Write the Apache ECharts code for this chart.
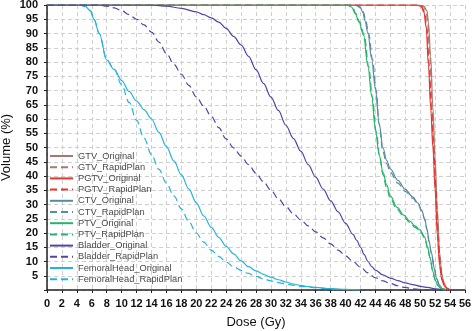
<!DOCTYPE html>
<html>
<head>
<meta charset="utf-8">
<script src="https://cdn.jsdelivr.net/npm/echarts@6/dist/echarts.min.js"></script>
<style>
html,body{margin:0;padding:0;background:#fff;}
#c{width:472px;height:331px;}
</style>
</head>
<body>
<div id="c"></div>
<script>
// Dose (Gy) / Volume (%) pairs
const gtvOriginal = [[0,100],[50,100],[50.5,99.6],[50.9,98],[51.1,94],[51.4,82],[51.7,64],[52,46],[52.3,28],[52.6,13],[52.9,5.5],[53.2,2.2],[53.6,0.6],[54,0]];
const gtvRapidPlan = [[0,100],[49.9,100],[50.4,99.6],[50.8,98],[51.0,94],[51.3,82],[51.6,64],[51.9,46],[52.2,28],[52.5,13],[52.8,5.5],[53.1,2.2],[53.5,0.6],[54,0]];
const pgtvOriginal = [[0,100],[49.5,100],[50.1,99.5],[50.5,97.5],[50.8,92],[51.1,79],[51.4,64],[51.7,50],[52,35],[52.3,19],[52.6,8.5],[52.9,3.5],[53.3,1.2],[53.8,0.2],[54,0]];
const pgtvRapidPlan = [[0,100],[49.6,100],[50.2,99.5],[50.6,97.5],[50.9,92],[51.2,79],[51.5,64],[51.8,50],[52.1,35],[52.4,19],[52.7,8.5],[53,3.5],[53.4,1.2],[53.9,0.2],[54,0]];
const ctvOriginal = [[0,100],[41,100],[41.5,99.8],[42,99],[42.3,97.5],[42.6,94.5],[43,90],[43.5,81],[44,70.5],[44.5,58.5],[45,50],[45.5,45.5],[46,42.5],[47,38.5],[48,35.3],[49,32.7],[49.7,30.5],[50.2,28],[50.6,25],[50.9,21.5],[51.2,17],[51.5,13],[51.9,7.5],[52.2,4],[52.6,1.6],[53,0.5],[53.5,0]];
const ctvRapidPlan = [[0,100],[41.1,100],[41.6,99.8],[42.1,99],[42.4,97.5],[42.7,94.5],[43.1,90],[43.6,81],[44.1,70],[44.5,58],[45,48.5],[45.5,44.3],[46,41.3],[47,37.5],[48,34.6],[49,32.2],[49.7,30.2],[50.2,27.7],[50.6,24.7],[50.9,21.2],[51.2,16.8],[51.5,12.8],[51.9,7.3],[52.2,3.9],[52.6,1.5],[53,0.5],[53.5,0]];
const ptvOriginal = [[0,100],[40.2,100],[40.8,99.3],[41.3,97],[41.8,94],[42.4,89.5],[43,78.5],[43.5,68],[44,56],[44.5,47.5],[45,41.5],[45.5,37],[46,33],[46.9,29],[47.8,26.3],[48.6,24.2],[49.3,22.5],[50,21],[50.6,18.6],[51,15],[51.3,11.5],[51.7,6.5],[52,3.5],[52.4,1.5],[52.8,0.5],[53.3,0]];
const ptvRapidPlan = [[0,100],[40.3,100],[40.9,99.3],[41.4,97],[41.9,94],[42.5,89.5],[43.1,78.5],[43.6,67.5],[44.1,55.5],[44.6,46.5],[45,40.5],[45.5,35.8],[46,32],[46.9,28.3],[47.8,25.7],[48.6,23.7],[49.3,22],[50,20.5],[50.6,18.2],[51,14.7],[51.3,11.3],[51.7,6.4],[52,3.4],[52.4,1.4],[52.8,0.5],[53.3,0]];
const bladderOriginal = [[0,100],[14,100],[16,99.6],[18,98.8],[20,97.6],[21,96.6],[22,95.5],[23,94],[24,91.8],[25,89],[26,86],[27,82],[28,77.3],[29,72.5],[30,67.7],[31,63],[32,57.8],[33,53.2],[34,48.7],[35,44],[36,39.6],[37,35.4],[38,31.3],[39,27.4],[40,23.4],[41,19.5],[41.5,17.4],[42,15],[42.5,12.4],[43,10],[43.5,8.2],[44,7],[45,5.3],[46,4.2],[47,3.3],[48,2.5],[49,1.9],[50,1.3],[51,0.9],[52,0.4],[53,0]];
const bladderRapidPlan = [[0,100],[7,100],[8,99.6],[9,99],[10,98],[11,96.6],[12,95],[13,93],[14,90.5],[15,87],[16,83],[17,79.2],[18,75.7],[19,71.8],[20,67.8],[21,64.5],[22,61],[23,57],[24,53],[25,49.9],[26,47],[27,44],[28,41],[29,38],[30,35],[31,32],[32,29.3],[33,26.8],[34,24.6],[35,22.5],[36,20.4],[37,18.3],[38,16.2],[39,14],[40,12],[41,10],[42,8],[43,6],[44,4.3],[45,3.2],[46,2.3],[47,1.5],[48,0.9],[49,0.4],[50,0.15],[51,0]];
const femoralOriginal = [[0,100],[4.4,100],[5.1,99.6],[5.8,98],[6.3,95],[7,90],[8,80.7],[9,77.3],[10,73.5],[11,69.7],[12,66.3],[13,63.3],[14,60],[15,55.3],[16,50.3],[17,45.3],[18,40.4],[19,35.5],[20,30.6],[21,26],[22,22],[23,18.5],[24,15.3],[25,12.7],[26,10.2],[27,8.2],[28,6.7],[29,5.5],[30,4.5],[31,3.6],[32,2.8],[33,2.1],[34,1.6],[35,1.2],[36,0.9],[38,0.5],[40,0.2],[42,0]];
const femoralRapidPlan = [[0,100],[4.4,100],[5.1,99.6],[5.8,98],[6.3,95],[7,90],[8,80.7],[9,77.5],[10,72],[11,65.8],[12,59.5],[13,53.3],[14,47.5],[15,42.3],[16,37.5],[17,33],[18,28.5],[19,24],[20,20],[21,16.8],[22,14],[23,11.8],[24,9.8],[25,8.2],[26,6.9],[27,5.8],[28,4.8],[29,3.9],[30,3.2],[31,2.6],[32,2.1],[33,1.7],[34,1.3],[36,0.8],[38,0.4],[40,0.1],[42,0]];

const seriesNames = ['GTV_Original','GTV_RapidPlan','PGTV_Original','PGTV_RapidPlan','CTV_Original','CTV_RapidPlan','PTV_Original','PTV_RapidPlan','Bladder_Original','Bladder_RapidPlan','FemoralHead_Original','FemoralHead_RapidPlan'];
const seriesData = [gtvOriginal,gtvRapidPlan,pgtvOriginal,pgtvRapidPlan,ctvOriginal,ctvRapidPlan,ptvOriginal,ptvRapidPlan,bladderOriginal,bladderRapidPlan,femoralOriginal,femoralRapidPlan];
const seriesColors = ['#a57a6e','#a57a6e','#e8342f','#e8342f','#5b8ba2','#5b8ba2','#27b46a','#27b46a','#5044a6','#5044a6','#27b2da','#27b2da'];
const seriesZ = [3,3,4,4,3,3,5,5,6,6,2,2];

const chart = echarts.init(document.getElementById('c'), null, {renderer:'canvas'});
const font = 'Liberation Sans, Arial, sans-serif';
chart.setOption({
  animation:false,
  backgroundColor:'#fff',
  grid:{left:47,right:7,top:5,bottom:41,containLabel:false,outerBoundsMode:'none'},
  legend:{
    orient:'vertical', left:49, top:151, padding:0,
    itemWidth:23, itemHeight:10, itemGap:1.2,
    itemStyle:{opacity:0},
    textStyle:{fontFamily:font,fontSize:9.3,color:'#4a4a4a',lineHeight:10},
    data:seriesNames
  },
  xAxis:{
    type:'value', min:0, max:56, interval:2,
    name:'Dose (Gy)', nameLocation:'middle', nameGap:26, nameMoveOverlap:false,
    nameTextStyle:{fontFamily:font,fontSize:13,color:'#111'},
    axisLine:{lineStyle:{color:'#222',width:1.5}},
    axisTick:{show:true,length:3,lineStyle:{color:'#222'}},
    axisLabel:{fontFamily:font,fontSize:11,fontWeight:'bold',color:'#111',margin:8},
    splitLine:{show:true,lineStyle:{color:'#cfcfcf',type:[4,3],width:1}}
  },
  yAxis:{
    type:'value', min:0, max:100, interval:5,
    name:'Volume (%)', nameLocation:'middle', nameGap:34, nameMoveOverlap:false,
    nameTextStyle:{fontFamily:font,fontSize:13,color:'#111'},
    axisLine:{show:true,lineStyle:{color:'#222',width:1.5}},
    axisTick:{show:true,length:3,lineStyle:{color:'#222'}},
    axisLabel:{fontFamily:font,fontSize:11,fontWeight:'bold',color:'#111',margin:9,
      formatter:function(v){return v===0?'':String(v);}},
    splitLine:{show:true,lineStyle:{color:'#cfcfcf',type:[4,3],width:1}}
  },
  series: seriesNames.map(function(n,i){
    return {
      name:n, type:'line', data:seriesData[i], z:seriesZ[i],
      symbol:'none', showSymbol:false,
      smooth:0.35, smoothMonotone:'x',
      color:seriesColors[i],
      lineStyle:{color:seriesColors[i], width:1.2, type:(i%2===1)?[7,4]:'solid'}
    };
  })
});
</script>
</body>
</html>
